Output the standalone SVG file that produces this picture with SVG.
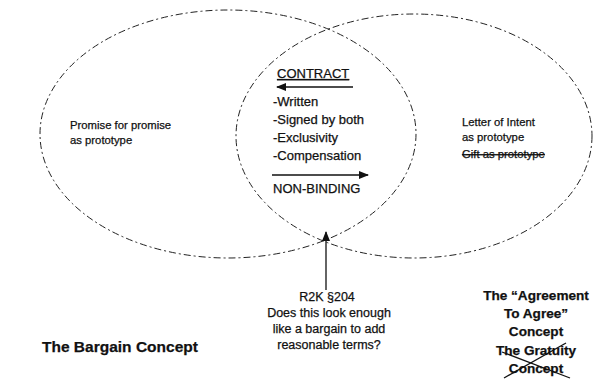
<svg xmlns="http://www.w3.org/2000/svg" width="597" height="382" viewBox="0 0 597 382">
<style>
.ell{fill:none;stroke:#222;stroke-width:1;stroke-dasharray:7 3 2 3}
.t{font-family:"Liberation Sans",Arial,sans-serif;fill:#111;stroke:#111;stroke-width:0.25}
.s11{font-size:11.3px}
.s13{font-size:13px}
.s12{font-size:12.5px}
.b{font-weight:bold;font-size:15.5px}
.b14{font-weight:bold;font-size:13.6px}
.ln{stroke:#111;stroke-width:1.3;fill:none}
</style>
<defs>
<marker id="ah" markerWidth="10" markerHeight="8" refX="9" refY="4" orient="auto" markerUnits="userSpaceOnUse">
<path d="M0,0 L10,4 L0,8 z" fill="#111"/>
</marker>
</defs>
<g id="bargain">
<ellipse class="ell" cx="228" cy="134" rx="188" ry="124"/>
<text class="t s11" x="70" y="129">Promise for promise</text>
<text class="t s11" x="70" y="144">as prototype</text>
<text class="t b" x="42" y="352">The Bargain Concept</text>
</g>
<g id="agreement">
<ellipse class="ell" cx="414" cy="136" rx="178" ry="122"/>
<text class="t s11" x="462" y="126">Letter of Intent</text>
<text class="t s11" x="462" y="141">as prototype</text>
<text class="t s11" x="462" y="158" text-decoration="line-through">Gift as prototype</text>
<g class="t b14" text-anchor="middle">
<text x="536" y="300">The “Agreement</text>
<text x="536" y="318">To Agree”</text>
<text x="536" y="336">Concept</text>
<text x="536" y="355">The Gratuity</text>
<text x="536" y="373">Concept</text>
</g>
<line class="ln" x1="504" y1="378" x2="566" y2="343"/>
<line class="ln" x1="502" y1="352" x2="570" y2="378"/>
</g>
<g id="contract">
<text class="t s13" x="277" y="78" text-decoration="underline">CONTRACT</text>
<text class="t s13" x="273" y="106">-Written</text>
<text class="t s13" x="273" y="124">-Signed by both</text>
<text class="t s13" x="273" y="142">-Exclusivity</text>
<text class="t s13" x="273" y="160">-Compensation</text>
<text class="t s13" x="273" y="193">NON-BINDING</text>
</g>
<g id="r2k">
<g class="t s12" text-anchor="middle">
<text x="327" y="301">R2K §204</text>
<text x="329" y="317">Does this look enough</text>
<text x="329" y="333">like a bargain to add</text>
<text x="329" y="349">reasonable terms?</text>
</g>
</g>
<g id="connectors">
<line class="ln" x1="353" y1="87" x2="277" y2="87" marker-end="url(#ah)"/>
<line class="ln" x1="272" y1="175" x2="368" y2="175" marker-end="url(#ah)"/>
<line class="ln" x1="326" y1="290" x2="326" y2="232" marker-end="url(#ah)"/>
</g>
</svg>
